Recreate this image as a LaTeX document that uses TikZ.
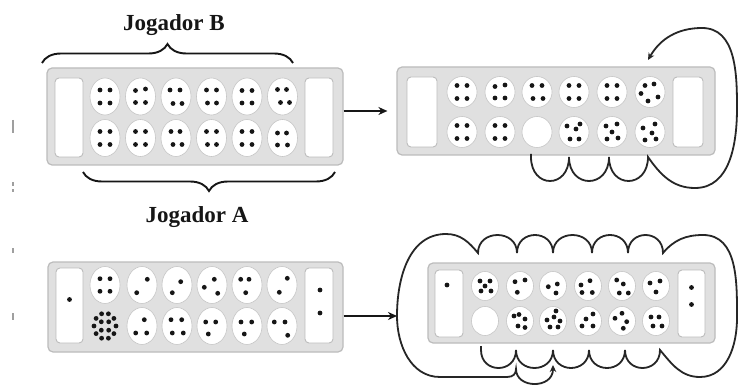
\documentclass[tikz,border=0pt]{standalone}
\usepackage{fontspec}
\setmainfont{Liberation Serif}
\usetikzlibrary{shapes.geometric,arrows.meta,decorations.pathreplacing}
\definecolor{boardfill}{RGB}{224,224,224}
\definecolor{boardline}{RGB}{188,188,188}
\definecolor{pitline}{RGB}{198,198,198}
\definecolor{inkc}{RGB}{22,22,22}
\definecolor{loopc}{RGB}{38,38,38}
\tikzset{
  boardbox/.style={draw=boardline,fill=boardfill,line width=1.2pt,rounded corners=5pt,inner sep=0,minimum width=#1},
  storebox/.style={draw=boardline,fill=white,line width=0.9pt,rounded corners=4pt,inner sep=0},
  pitA/.style={ellipse,draw=pitline,fill=white,line width=0.6pt,inner sep=0,minimum width=30pt,minimum height=37pt},
  pitB/.style={ellipse,draw=pitline,fill=white,line width=0.6pt,inner sep=0,minimum width=30pt,minimum height=31pt},
  pitC/.style={ellipse,draw=pitline,fill=white,line width=0.6pt,inner sep=0,minimum width=27pt,minimum height=29pt},
  seed/.style={fill=inkc},
  conn/.style={draw=inkc,line width=2pt,-{Stealth[length=9pt,width=8pt]}},
  loopline/.style={draw=loopc,line width=1.8pt,line join=miter},
  looparrow/.style={loopline,-{Stealth[length=7pt,width=6.5pt]}},
  bracepath/.style={draw=inkc,line width=1.9pt,decorate,decoration={brace,amplitude=19pt}},
  title/.style={font=\fontsize{23}{27}\selectfont\bfseries,text=inkc,inner sep=0}
}
\newcommand\mkpit[5]{%
  \node[#4] (#1) at (#2,-#3) {};
  \foreach \dx/\dy in {#5} \fill[seed] ([shift={(\dx,\dy)}]#1.center) circle[radius=2.4pt];
}
\newcommand\seedat[1]{\fill[seed] (#1) circle[radius=2.4pt];}
\begin{document}
\begin{tikzpicture}[x=1pt,y=1pt]
\useasboundingbox (0,0) rectangle (739,-385);
\fill[white] (0,0) rectangle (739,-385);

% fragments at left edge
\draw[gray!75,line width=1.8pt] (13,-120) -- (13,-133);
\draw[gray!75,line width=1.5pt] (13,-182) -- (13,-186);
\draw[gray!75,line width=1.5pt] (13,-189) -- (13,-192);
\draw[gray!75,line width=1.5pt] (13,-248) -- (13,-253);
\draw[gray!75,line width=1.5pt] (13,-313) -- (13,-320);

%================ Board 1 (top left)
\node[boardbox=296pt,minimum height=97pt] (b1) at (195,-116.5) {};
\node[storebox,minimum width=28pt,minimum height=79pt] (b1L) at (69,-117.5) {};
\node[storebox,minimum width=28pt,minimum height=79pt] (b1R) at (319,-117.5) {};
\mkpit{b1t1}{105}{96.5}{pitA}{-5/6.5,5/6.5,-5/-6.5,5/-6.5}
\mkpit{b1t2}{140.5}{96.5}{pitA}{-5/6,5/7.5,-5/-6,5/-6}
\mkpit{b1t3}{176}{96.5}{pitA}{-6/6.5,4/6.5,-3/-7,6/-7}
\mkpit{b1t4}{211.5}{96.5}{pitA}{-5/6.5,5/6.5,-4/-6.5,5/-6.5}
\mkpit{b1t5}{247}{96.5}{pitA}{-5/6,5/6,-5/-6.5,5/-6.5}
\mkpit{b1t6}{282.5}{96.5}{pitA}{-5/7,4/7,-2/-6,7/-6}
\mkpit{b1b1}{105}{138}{pitA}{-5/6.5,5/6.5,-5/-6.5,5/-6.5}
\mkpit{b1b2}{140.5}{138}{pitA}{-5/6.5,5/6.5,-5/-6.5,5/-6.5}
\mkpit{b1b3}{176}{138}{pitA}{-5/6.5,4/6.5,-3/-6.5,6/-6.5}
\mkpit{b1b4}{211.5}{138}{pitA}{-5/6.5,5/6.5,-4/-6.5,5/-6.5}
\mkpit{b1b5}{247}{138}{pitA}{-5/6.5,5/6.5,-5/-6.5,5/-6.5}
\mkpit{b1b6}{282.5}{138}{pitA}{-5/5,4/5,-5/-7,5/-7}

\coordinate (brB1) at (42,-63);
\coordinate (brB2) at (293,-63);
\draw[bracepath] (brB1) -- (brB2);
\node[title,anchor=base] (jB) at (174,-31) {Jogador B};
\coordinate (brA1) at (335,-172);
\coordinate (brA2) at (83,-172);
\draw[bracepath] (brA1) -- (brA2);
\node[title,anchor=base] (jA) at (197,-222) {Jogador A};

%================ Board 2 (top right)
\node[boardbox=318pt,minimum height=88pt] (b2) at (556,-111) {};
\node[storebox,minimum width=30pt,minimum height=70pt] (b2L) at (422,-112) {};
\node[storebox,minimum width=30pt,minimum height=70pt] (b2R) at (688,-112) {};
\mkpit{b2t1}{462}{92}{pitB}{-5/6.5,5/6.5,-5/-6.5,5/-6.5}
\mkpit{b2t2}{500}{92}{pitB}{-5/5.5,5/7,-5/-6,5/-6}
\mkpit{b2t3}{537}{92}{pitB}{-5/6.5,5/6.5,-4/-6.5,6/-6.5}
\mkpit{b2t4}{574}{92}{pitB}{-5/6.5,5/6.5,-5/-6.5,5/-6.5}
\mkpit{b2t5}{612}{92}{pitB}{-5/6.5,5/6.5,-5/-6.5,5/-6.5}
\mkpit{b2t6}{650}{92}{pitB}{-5/6.5,4/8,-9/-1.5,8/-5,-2/-9}
\mkpit{b2b1}{462}{132}{pitB}{-5/6.5,5/6.5,-5/-6.5,5/-6.5}
\mkpit{b2b2}{500}{132}{pitB}{-5/6.5,5/6.5,-5/-6.5,5/-6.5}
\node[pitB] (b2b3) at (537,-132) {};
\mkpit{b2b4}{574}{132}{pitB}{-7/6,2/3,6/8,-4/-7,5/-7}
\mkpit{b2b5}{612}{132}{pitB}{-6/6,5/8,0/0,-5/-7,6/-6}
\mkpit{b2b6}{650}{132}{pitB}{-7/4,5/8,2/-1,-5/-8,6/-7}

\draw[conn] (b1.east |- b2.west) -- ([xshift=-9pt]b2.west);

% sowing loop on board 2
\coordinate (s2) at (531,-154);
\coordinate (e2) at (648,-60);
\draw[looparrow] (s2) -- (531,-157)
  .. controls (531,-189) and (569,-189) .. (569,-157)
  .. controls (569,-189) and (609,-189) .. (609,-157)
  .. controls (609,-189) and (648,-189) .. (648,-157)
  to[out=-55,in=180] (695,-188)
  to[out=0,in=-90] (737,-108)
  to[out=90,in=0] (702,-28)
  to[out=180,in=60] (e2);

%================ Board 3 (bottom left)
\node[boardbox=295pt,minimum height=90pt] (b3) at (195.5,-307) {};
\node[storebox,minimum width=27pt,minimum height=75pt] (b3L) at (69.5,-305.5) {};
\node[storebox,minimum width=28pt,minimum height=75pt] (b3R) at (319,-305.5) {};
\seedat{[shift={(0,6)}]b3L.center}
\seedat{[shift={(1,15.5)}]b3R.center}
\seedat{[shift={(1,-7.5)}]b3R.center}
\mkpit{b3t1}{105}{285}{pitA}{-5/6.3,5/6.3,-5/-6.3,5/-6.3}
\mkpit{b3t2}{142}{285}{pitA}{5.3/5.7,-5.3/-7.7}
\mkpit{b3t3}{177}{285}{pitA}{3.7/3.3,-4.7/-7.7}
\mkpit{b3t4}{212}{285}{pitA}{2.3/5.7,-7.7/-2.3,5.7/-8.3}
\mkpit{b3t5}{247}{285}{pitA}{-6.3/5.7,2/5.7,-1.3/-7.7}
\mkpit{b3t6}{282}{285}{pitA}{5.3/6.7,-2.7/-7.3}
\mkpit{b3b1}{105}{326}{pitA,draw=none,fill=none}{11/0,8.9/7.6,3.4/12.2,-3.4/12.2,-8.9/7.6,-11/0,-8.9/-7.6,-3.4/-12.2,3.4/-12.2,8.9/-7.6,3.7/4.2,-3.7/4.2,-3.7/-4.2,3.7/-4.2}
\mkpit{b3b2}{142}{326}{pitA}{2.3/6.3,-6.3/-7,4.7/-7}
\mkpit{b3b3}{177}{326}{pitA}{-6/6.3,4.7/6.3,-4.7/-7,6.3/-7}
\mkpit{b3b4}{212}{326}{pitA}{-6.3/4,3.7/4,-3.7/-8}
\mkpit{b3b5}{247}{326}{pitA}{-6/4,4.7/4,-2.7/-8}
\mkpit{b3b6}{282}{326}{pitA}{-7.7/4,3/4,5.7/-9.3}

%================ Board 4 (bottom right)
\node[boardbox=287pt,minimum height=80pt] (b4) at (571.5,-303) {};
\node[storebox,minimum width=28pt,minimum height=67pt] (b4L) at (449,-303.5) {};
\node[storebox,minimum width=27pt,minimum height=67pt] (b4R) at (691.5,-303.5) {};
\seedat{[shift={(-2,18.5)}]b4L.center}
\seedat{[shift={(0,16)}]b4R.center}
\seedat{[shift={(0,-1)}]b4R.center}
\mkpit{b4t1}{485}{286}{pitC}{-5/5,5/5,0/0,-4/-5,6/-5}
\mkpit{b4t2}{520}{286}{pitC}{-5/4.3,5/6,-2.7/-6.3}
\mkpit{b4t3}{553}{286}{pitC}{-4.7/-0.7,4.3/2,3/-7}
\mkpit{b4t4}{588}{286}{pitC}{2/5.3,-7/1,-6/-6.5,4.3/-6.5}
\mkpit{b4t5}{622}{286}{pitC}{-5.3/6,1.3/2,-2.7/-7,6.3/-7}
\mkpit{b4t6}{656}{286}{pitC}{-6/3,4/5,0/-6}
\node[pitC] (b4b1) at (485,-321) {};
\mkpit{b4b2}{520}{321}{pitC}{-6/5,-1/6.5,5/2,-2/-5,5/-6.5}
\mkpit{b4b3}{553}{321}{pitC}{3/10,1/4,7/0,-6/1,-3/-6,5/-6}
\mkpit{b4b4}{588}{321}{pitC}{5/7,-2/2,-6/-5,5/-5}
\mkpit{b4b5}{622}{321}{pitC}{0/7.7,-7/2.7,4.7/-0.7,1.3/-7.3}
\mkpit{b4b6}{656}{321}{pitC}{-5/4,3/4,-3/-5,6/-5}

\coordinate (lp) at (397,-316);
\draw[conn] (b3.east |- lp) -- (lp);

% sowing loop on board 4
\coordinate (s4) at (481,-346);
\coordinate (e4) at (553,-365);
\draw[looparrow] (s4) -- (481,-350)
  .. controls (481,-374) and (516,-374) .. (516,-350)
  .. controls (516,-374) and (553,-374) .. (553,-350)
  .. controls (553,-374) and (589,-374) .. (589,-350)
  .. controls (589,-374) and (625,-374) .. (625,-350)
  .. controls (625,-374) and (660,-374) .. (660,-350)
  to[out=-50,in=180] (700,-377)
  to[out=0,in=-90] (737,-318)
  to[out=90,in=0] (703,-235)
  to[out=180,in=50] (663,-253)
  .. controls (663,-229) and (628,-229) .. (628,-253)
  .. controls (628,-229) and (592,-229) .. (592,-253)
  .. controls (592,-229) and (553,-229) .. (553,-253)
  .. controls (553,-229) and (517,-229) .. (517,-253)
  .. controls (517,-229) and (478,-229) .. (478,-253)
  to[out=130,in=0] (446,-234)
  to[out=180,in=90] (lp)
  to[out=-90,in=180] (440,-377)
  -- (507,-377)
  .. controls (513,-377) and (516,-374) .. (516,-369)
  .. controls (516,-389) and (553,-389) .. (e4);
\end{tikzpicture}
\end{document}
